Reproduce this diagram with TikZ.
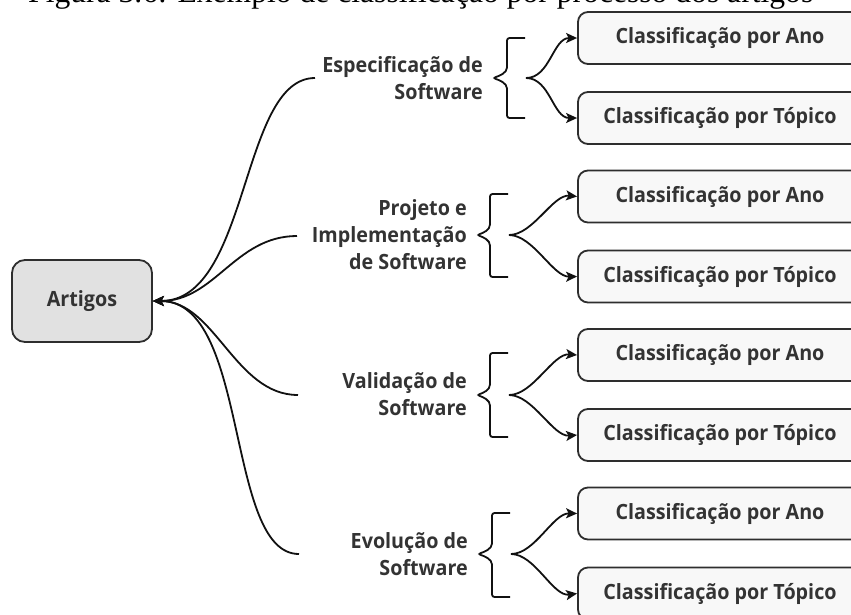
\documentclass[tikz,border=0pt]{standalone}
\usepackage{fontspec}
\newfontfamily\osans{Open Sans}[FakeStretch=0.94]
\newfontfamily\capfont{Liberation Serif}
\usetikzlibrary{arrows.meta}
\definecolor{txt}{HTML}{333333}
\definecolor{edge}{HTML}{2E2E2E}
\definecolor{rootfill}{HTML}{E1E1E1}
\definecolor{leaffill}{HTML}{F8F8F8}
\definecolor{ink}{HTML}{111111}
\begin{document}
\begin{tikzpicture}[x=1pt,y=-1pt,
  lbl/.style={font=\osans\bfseries\fontsize{21}{27}\selectfont, text=txt, align=right, inner sep=0pt, anchor=east},
  leaf/.style={draw=edge, line width=1.8pt, fill=leaffill, rounded corners=10pt, minimum width=284pt, minimum height=52pt, inner sep=0pt, font=\osans\bfseries\fontsize{21}{25}\selectfont, text=txt},
  rootbox/.style={draw=edge, line width=1.8pt, fill=rootfill, rounded corners=13pt, minimum width=140pt, minimum height=82pt, inner sep=0pt, font=\osans\bfseries\fontsize{21}{25}\selectfont, text=txt},
  conn/.style={line width=1.8pt, draw=ink},
  tip/.tip={Stealth[length=11pt,width=10pt,inset=2.5pt]},
  arr/.style={conn, -tip},
  rarr/.style={conn, tip-},
  bracepath/.style={line width=1.8pt, draw=ink, rounded corners=2.5pt}]
\useasboundingbox (0,0) rectangle (851,614);
\clip (0,0) rectangle (851,614);

% caption (cut off at top)
\node[anchor=base west, inner sep=0pt] (cap) at (28,2) {\resizebox{785pt}{!}{\capfont Figura 3.6: Exemplo de classificação por processo dos artigos}};

% root
\node[rootbox] (art) at (82,301) {Artigos};

% labels
\node[lbl] (l1) at (483,78) {Especificação de\\Software};
\node[lbl] (l2) at (467,235) {Projeto e\\Implementação\\de Software};
\node[lbl] (l3) at (467,394) {Validação de\\Software};
\node[lbl] (l4) at (468,554) {Evolução de\\Software};

\coordinate (e1) at (315,78);
\coordinate (e2) at (297,236);
\coordinate (e3) at (298,395);
\coordinate (e4) at (299,554);

\draw[rarr] (art.east) .. controls (250,301) and (240,78) .. (e1);
\draw[rarr] (art.east) .. controls (215,301) and (235,236) .. (e2);
\draw[rarr] (art.east) .. controls (215,301) and (235,395) .. (e3);
\draw[rarr] (art.east) .. controls (250,301) and (225,554) .. (e4);

% leaves
\foreach \k/\ya/\yb in {1/38/118, 2/196.5/276.5, 3/355/435, 4/513.5/593.5}{
  \node[leaf] (a\k) at (720,\ya) {Classificação por Ano};
  \node[leaf] (t\k) at (720,\yb) {Classificação por Tópico};
}

% braces and branch arrows
\foreach \k/\tx/\ty/\vx/\ex/\yt/\yb in {1/493/78/507/525/38/118, 2/477/235/490/508/194/277, 3/477/395/490/508/353/437, 4/478/554/492/510/513/597}{
  \draw[bracepath] (\ex,\yt) -- (\vx,\yt) -- (\vx,\ty-13)
     .. controls (\vx,\ty-5) and (\tx+6,\ty-2) .. (\tx,\ty)
     .. controls (\tx+6,\ty+2) and (\vx,\ty+5) .. (\vx,\ty+13)
     -- (\vx,\yb) -- (\ex,\yb);
  \coordinate (s\k) at (\ex+1,\ty);
  \draw[arr] (s\k) .. controls (\ex+25,\ty) and (553,\yt) .. (a\k.west);
  \draw[arr] (s\k) .. controls (\ex+25,\ty) and (553,\yb) .. (t\k.west);
}
\end{tikzpicture}
\end{document}
